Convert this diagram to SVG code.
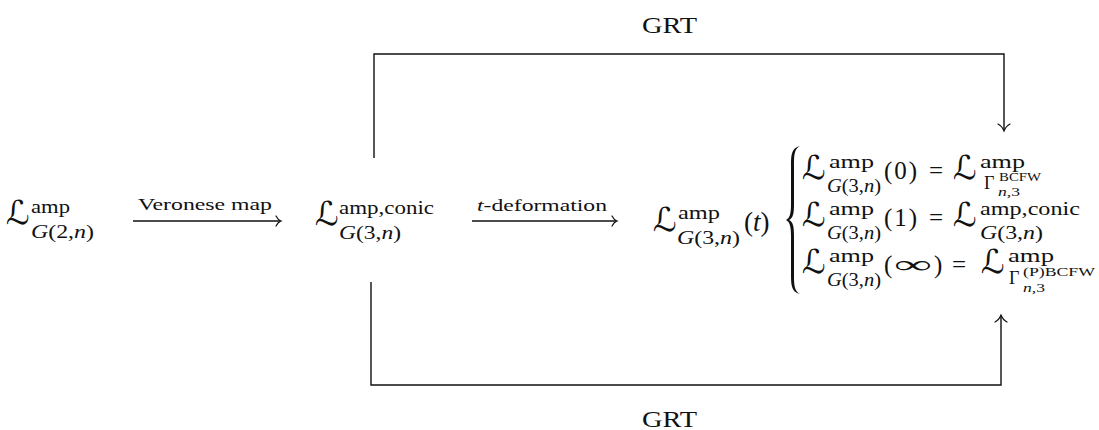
<svg xmlns="http://www.w3.org/2000/svg" width="1099" height="430" viewBox="0 0 1099 430">
<style>
text{font-family:"Liberation Serif","DejaVu Serif",serif;fill:#111}
.L{font-family:"DejaVu Serif","DejaVu Sans",serif;font-size:33px;font-style:italic}
.m{font-size:25px}
.s{font-size:18px}
.ss{font-size:12px}
.lab{font-size:16px}
.grt{font-size:24px}
.i{font-style:italic}
.ln{fill:none;stroke:#111;stroke-width:1.4}
.ah{fill:none;stroke:#111;stroke-width:1.2;stroke-linecap:round}
</style>
<g id="connectors">
<path class="ln" d="M374,158 V54 H1004 V130"/>
<path class="ah" d="M998,124 Q1002,126 1004,131 Q1006,126 1010,124"/>
<path class="ln" d="M371,282 V385 H1001 V316"/>
<path class="ah" d="M995,322 Q999,320 1001,315 Q1003,320 1007,322"/>
<text class="grt" x="642" y="33" textLength="55" lengthAdjust="spacingAndGlyphs">GRT</text>
<text class="grt" x="642" y="427" textLength="55" lengthAdjust="spacingAndGlyphs">GRT</text>
<g id="veronese">
<path class="ln" d="M133,221 H280"/>
<path class="ah" d="M276,216 Q278,220 281,221 Q278,222 276,226"/>
<text class="lab" x="138" y="210" textLength="134" lengthAdjust="spacingAndGlyphs">Veronese map</text>
</g>
<g id="tdeform">
<path class="ln" d="M472,221 H616"/>
<path class="ah" d="M612,216 Q614,220 617,221 Q614,222 612,226"/>
<text class="lab" x="477" y="211" textLength="130" lengthAdjust="spacingAndGlyphs"><tspan class="i">t</tspan>-deformation</text>
</g>
</g>
<g id="n1">
<text class="L" x="6" y="224">ℒ</text>
<text class="s" x="31" y="213" textLength="39" lengthAdjust="spacingAndGlyphs">amp</text>
<text class="s" x="31" y="238" textLength="63" lengthAdjust="spacingAndGlyphs"><tspan class="i">G</tspan>(2,<tspan class="i">n</tspan>)</text>
</g>
<g id="n2">
<text class="L" x="315" y="225">ℒ</text>
<text class="s" x="339" y="214" textLength="95" lengthAdjust="spacingAndGlyphs">amp,conic</text>
<text class="s" x="339" y="239" textLength="62" lengthAdjust="spacingAndGlyphs"><tspan class="i">G</tspan>(3,<tspan class="i">n</tspan>)</text>
</g>
<g id="n3">
<text class="L" x="653" y="231">ℒ</text>
<text class="s" x="678" y="219" textLength="42" lengthAdjust="spacingAndGlyphs">amp</text>
<text class="s" x="677" y="244" textLength="63" lengthAdjust="spacingAndGlyphs"><tspan class="i">G</tspan>(3,<tspan class="i">n</tspan>)</text>
<text x="744" y="231" font-size="27">(<tspan class="i">t</tspan>)</text>
</g>
<g id="cases">
<path d="M800,146 C791,148 791,156 791,166 L791,204 C791,213 790,218 786,220 C790,222 791,227 791,236 L791,274 C791,284 791,292 800,294 C794,291 794,284 794,274 L794,236 C794,226 793,222 789,220 C793,218 794,214 794,204 L794,166 C794,156 794,149 800,146 Z" fill="#111"/>
<g id="row1">
<text class="L" x="802" y="179">ℒ</text>
<text class="s" x="829" y="168" textLength="45" lengthAdjust="spacingAndGlyphs">amp</text>
<text class="s" x="827" y="192" textLength="54" lengthAdjust="spacingAndGlyphs"><tspan class="i">G</tspan>(3,<tspan class="i">n</tspan>)</text>
<text class="m" x="884" y="179" letter-spacing="2">(0)</text>
<text class="m" x="929" y="179">=</text>
<text class="L" x="953" y="179">ℒ</text>
<text class="s" x="980" y="168" textLength="45" lengthAdjust="spacingAndGlyphs">amp</text>
<text class="s" x="984" y="189">Γ</text>
<text class="ss" x="999" y="181" textLength="42" lengthAdjust="spacingAndGlyphs">BCFW</text>
<text class="ss" x="998" y="196" textLength="22" lengthAdjust="spacingAndGlyphs"><tspan class="i">n</tspan>,3</text>
</g>
<g id="row2">
<text class="L" x="802" y="226">ℒ</text>
<text class="s" x="829" y="215" textLength="45" lengthAdjust="spacingAndGlyphs">amp</text>
<text class="s" x="827" y="239" textLength="54" lengthAdjust="spacingAndGlyphs"><tspan class="i">G</tspan>(3,<tspan class="i">n</tspan>)</text>
<text class="m" x="884" y="226" letter-spacing="2">(1)</text>
<text class="m" x="929" y="226">=</text>
<text class="L" x="953" y="226">ℒ</text>
<text class="s" x="980" y="215" textLength="100" lengthAdjust="spacingAndGlyphs">amp,conic</text>
<text class="s" x="980" y="239" textLength="63" lengthAdjust="spacingAndGlyphs"><tspan class="i">G</tspan>(3,<tspan class="i">n</tspan>)</text>
</g>
<g id="row3">
<text class="L" x="802" y="273">ℒ</text>
<text class="s" x="829" y="262" textLength="45" lengthAdjust="spacingAndGlyphs">amp</text>
<text class="s" x="827" y="286" textLength="54" lengthAdjust="spacingAndGlyphs"><tspan class="i">G</tspan>(3,<tspan class="i">n</tspan>)</text>
<text class="m" x="884" y="273">(</text>
<text class="m" x="894" y="273" textLength="38" lengthAdjust="spacingAndGlyphs">∞</text>
<text class="m" x="934" y="273">)</text>
<text class="m" x="952" y="273">=</text>
<text class="L" x="981" y="273">ℒ</text>
<text class="s" x="1008" y="262" textLength="46" lengthAdjust="spacingAndGlyphs">amp</text>
<text class="s" x="1009" y="284">Γ</text>
<text class="ss" x="1023" y="276" textLength="72" lengthAdjust="spacingAndGlyphs">(P)BCFW</text>
<text class="ss" x="1023" y="292" textLength="22" lengthAdjust="spacingAndGlyphs"><tspan class="i">n</tspan>,3</text>
</g>
</g>
</svg>
